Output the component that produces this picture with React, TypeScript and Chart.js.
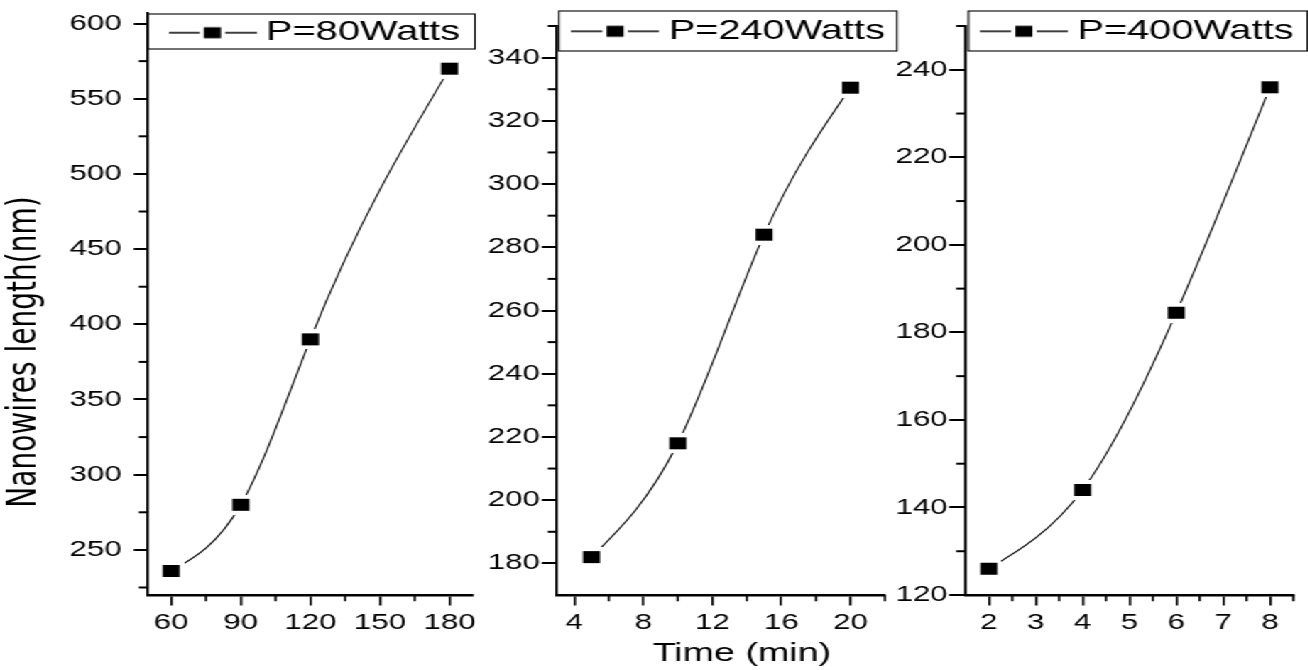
import React, { useEffect, useRef } from "react";
import { Chart, registerables } from "chart.js";

Chart.register(...registerables);

const FONT = "'Liberation Sans', Arial, Helvetica, sans-serif";
Chart.defaults.font.family = FONT;

// ---------- data ----------
const seriesLabels = ["P=80Watts", "P=240Watts", "P=400Watts"];
const xTitle = "Time (min)";
const yTitle = "Nanowires length(nm)";

// Panel 1 (P = 80 W)
const p1Time = [60, 90, 120, 180];
const p1Length = [236, 280, 390, 570];
const p1XMajor = [60, 90, 120, 150, 180];
const p1XMinor = [75, 105, 135, 165];
const p1YMajor = [250, 300, 350, 400, 450, 500, 550, 600];
const p1YMinor = [225, 275, 325, 375, 425, 475, 525, 575];

// Panel 2 (P = 240 W)
const p2Time = [5, 10, 15, 20];
const p2Length = [182, 218, 284, 330.5];
const p2XMajor = [4, 8, 12, 16, 20];
const p2XMinor = [6, 10, 14, 18, 22];
const p2YMajor = [180, 200, 220, 240, 260, 280, 300, 320, 340];
const p2YMinor = [190, 210, 230, 250, 270, 290, 310, 330, 350];

// Panel 3 (P = 400 W)
const p3Time = [2, 4, 6, 8];
const p3Length = [126, 144, 184.5, 236];
const p3XMajor = [2, 3, 4, 5, 6, 7, 8];
const p3XMinor = [2.5, 3.5, 4.5, 5.5, 6.5, 7.5, 8.5];
const p3YMajor = [120, 140, 160, 180, 200, 220, 240];
const p3YMinor = [130, 150, 170, 190, 210, 230, 250];

// ---------- layout (final page px; canvases stretched horizontally by S) ----------
const S = 1.42;
const H = 670;
const AXIS_BOTTOM = 595;
const LEGEND_FONT = 28;
const LEGEND_BW = 47.4;
const SYM_W = 62;
const SYM_H = 16;

const PANELS: any[] = [
  {
    label: seriesLabels[0], xs: p1Time, ys: p1Length,
    xMin: 50, xMax: 190, yMin: 220, yMax: 607,
    xMajor: p1XMajor, xMinor: p1XMinor, yMajor: p1YMajor, yMinor: p1YMinor,
    canvasLeft: 0, canvasW: 340, axisLeft: 148, axisRight: 478, top: 13,
    yTickLen: 10, yTickPad: 8.6, bottomShift: 21,
    legendTextStart: 266, legendTextCenter: 32.7, box: [148, 475, 14, 49],
    yTitle: true, xTitle: false,
  },
  {
    label: seriesLabels[1], xs: p2Time, ys: p2Length,
    xMin: 3, xMax: 22, yMin: 170, yMax: 350,
    xMajor: p2XMajor, xMinor: p2XMinor, yMajor: p2YMajor, yMinor: p2YMinor,
    canvasLeft: 480, canvasW: 296, axisLeft: 557, axisRight: 885, top: 26,
    yTickLen: 10.6, yTickPad: 1.4, bottomShift: 0,
    legendTextStart: 668.7, legendTextCenter: 31.3, box: [559, 897, 11, 51],
    yTitle: false, xTitle: true,
  },
  {
    label: seriesLabels[2], xs: p3Time, ys: p3Length,
    xMin: 1.5, xMax: 8.5, yMin: 120, yMax: 250,
    xMajor: p3XMajor, xMinor: p3XMinor, yMajor: p3YMajor, yMinor: p3YMinor,
    canvasLeft: 880, canvasW: 301, axisLeft: 965, axisRight: 1293, top: 26,
    yTickLen: 11.5, yTickPad: 1, bottomShift: 0,
    legendTextStart: 1077, legendTextCenter: 31.3, box: [968, 1307, 11, 51],
    yTitle: false, xTitle: false,
  },
];

// natural cubic spline slopes at each knot (data space)
function naturalSlopes(x: number[], y: number[]): number[] {
  const n = x.length;
  const h: number[] = [];
  for (let i = 0; i < n - 1; i++) h.push(x[i + 1] - x[i]);
  const M = new Array(n).fill(0);
  if (n > 2) {
    const m = n - 2;
    const a = new Array(m).fill(0);
    const b = new Array(m).fill(0);
    const c = new Array(m).fill(0);
    const d = new Array(m).fill(0);
    for (let k = 0; k < m; k++) {
      const i = k + 1;
      a[k] = h[i - 1];
      b[k] = 2 * (h[i - 1] + h[i]);
      c[k] = h[i];
      d[k] = 6 * ((y[i + 1] - y[i]) / h[i] - (y[i] - y[i - 1]) / h[i - 1]);
    }
    for (let k = 1; k < m; k++) {
      const w = a[k] / b[k - 1];
      b[k] -= w * c[k - 1];
      d[k] -= w * d[k - 1];
    }
    const sol = new Array(m).fill(0);
    sol[m - 1] = d[m - 1] / b[m - 1];
    for (let k = m - 2; k >= 0; k--) sol[k] = (d[k] - c[k] * sol[k + 1]) / b[k];
    for (let k = 0; k < m; k++) M[k + 1] = sol[k];
  }
  const s: number[] = [];
  for (let i = 0; i < n - 1; i++) {
    s.push((y[i + 1] - y[i]) / h[i] - (h[i] * (2 * M[i] + M[i + 1])) / 6);
  }
  const j = n - 2;
  s.push((y[j + 1] - y[j]) / h[j] + (h[j] * (M[j] + 2 * M[j + 1])) / 6);
  return s;
}

function makeMarker(): HTMLCanvasElement {
  const c = document.createElement("canvas");
  c.width = 18;
  c.height = 20;
  const g = c.getContext("2d")!;
  g.fillStyle = "#fff";
  g.fillRect(0, 0, 18, 20);
  g.fillStyle = "#000";
  g.fillRect(3, 4, 12, 12);
  return c;
}

function makeLegendSymbol(): HTMLCanvasElement {
  const c = document.createElement("canvas");
  c.width = SYM_W;
  c.height = SYM_H;
  const g = c.getContext("2d")!;
  g.strokeStyle = "#000";
  g.lineWidth = 1.3;
  g.beginPath();
  g.moveTo(0, 8);
  g.lineTo(22, 8);
  g.moveTo(40, 8);
  g.lineTo(SYM_W, 8);
  g.stroke();
  g.fillStyle = "#000";
  g.fillRect(25, 2.5, 12, 11);
  return c;
}

function Panel({ cfg }: { cfg: any }) {
  const ref = useRef<HTMLCanvasElement>(null);

  useEffect(() => {
    const canvas = ref.current;
    if (!canvas) return;
    const toX = (fx: number) => (fx - cfg.canvasLeft) / S;
    const leftN = toX(cfg.axisLeft);
    const rightN = toX(cfg.axisRight);
    const titleFontSize = 28;
    const titlePadTop = 1.2;
    const titleW = cfg.yTitle ? titleFontSize * 1.2 + titlePadTop : 0;
    const marker = makeMarker();
    const legendSymbol = makeLegendSymbol();
    const slopes = naturalSlopes(cfg.xs, cfg.ys);

    const layoutPlugin = {
      id: "placeLegend",
      afterLayout(chart: any) {
        const lg = chart.legend;
        if (!lg) return;
        const l = toX(cfg.legendTextStart) - LEGEND_BW - LEGEND_FONT / 2;
        const t = cfg.legendTextCenter - LEGEND_FONT / 2;
        const hb = lg.legendHitBoxes && lg.legendHitBoxes[0];
        const itemW = hb ? hb.width : 240;
        lg.left = l - 20;
        lg.right = l + itemW;
        lg.width = lg.right - lg.left;
        lg.top = t - 4;
        lg.bottom = t + 40;
        lg.height = 44;
        // compensate top offset used for cursor: cursor.y = top + padding
        lg.top = t;
        lg.height = 40;
      },
    };

    const splinePlugin = {
      id: "naturalSpline",
      beforeDatasetsDraw(chart: any) {
        const meta = chart.getDatasetMeta(0);
        const xs = chart.scales.x;
        const ys = chart.scales.y;
        const pts = meta.data;
        const n = cfg.xs.length;
        for (let i = 0; i < n; i++) {
          const p = pts[i];
          if (!p) continue;
          const hp = i > 0 ? cfg.xs[i] - cfg.xs[i - 1] : 0;
          const hn = i < n - 1 ? cfg.xs[i + 1] - cfg.xs[i] : 0;
          p.cp1x = xs.getPixelForValue(cfg.xs[i] - hp / 3);
          p.cp1y = ys.getPixelForValue(cfg.ys[i] - (slopes[i] * hp) / 3);
          p.cp2x = xs.getPixelForValue(cfg.xs[i] + hn / 3);
          p.cp2y = ys.getPixelForValue(cfg.ys[i] + (slopes[i] * hn) / 3);
        }
        if (meta.dataset) {
          meta.dataset._pointsUpdated = true;
          delete meta.dataset._path;
        }
      },
    };

    const decorPlugin = {
      id: "decor",
      afterDraw(chart: any) {
        const ctx = chart.ctx;
        const xs = chart.scales.x;
        const ys = chart.scales.y;
        ctx.save();
        ctx.strokeStyle = "#000";
        ctx.lineWidth = 2;
        cfg.yMinor.forEach((v: number) => {
          const p = ys.getPixelForValue(v);
          ctx.beginPath();
          ctx.moveTo(ys.right, p);
          ctx.lineTo(ys.right - 6.5, p);
          ctx.stroke();
        });
        ctx.lineWidth = 1.6;
        cfg.xMinor.forEach((v: number) => {
          const p = xs.getPixelForValue(v);
          ctx.beginPath();
          ctx.moveTo(p, xs.top);
          ctx.lineTo(p, xs.top + 6.3);
          ctx.stroke();
        });
        const [bl, br, bt, bb] = cfg.box;
        ctx.lineWidth = 1.1;
        ctx.strokeRect(toX(bl), bt, toX(br) - toX(bl), bb - bt);
        ctx.restore();
      },
    };

    const chart = new Chart(canvas, {
      type: "line",
      data: {
        datasets: [
          {
            label: cfg.label,
            data: cfg.xs.map((x: number, i: number) => ({ x, y: cfg.ys[i] })),
            borderColor: "#000",
            backgroundColor: "#000",
            borderWidth: 1.1,
            cubicInterpolationMode: "monotone",
            pointStyle: marker as any,
            pointRadius: 6,
            fill: false,
          },
        ],
      },
      options: {
        responsive: false,
        animation: false,
        devicePixelRatio: 1,
        events: [],
        layout: {
          padding: {
            left: 0,
            top: cfg.top,
            right: cfg.canvasW - rightN,
            bottom: -cfg.bottomShift,
          },
        },
        plugins: {
          tooltip: { enabled: false },
          legend: {
            display: true,
            position: "top",
            align: "end",
            maxHeight: 0.001,
            labels: {
              usePointStyle: true,
              pointStyleWidth: LEGEND_BW,
              padding: 0,
              color: "#000",
              font: { size: LEGEND_FONT, family: FONT },
              generateLabels: () => [
                {
                  text: cfg.label,
                  pointStyle: legendSymbol as any,
                  fillStyle: "#000",
                  strokeStyle: "#000",
                  fontColor: "#000",
                  lineWidth: 0,
                  hidden: false,
                  datasetIndex: 0,
                } as any,
              ],
            },
          },
          title: cfg.yTitle
            ? {
                display: true,
                position: "left",
                text: yTitle,
                color: "#000",
                font: { family: "'DejaVu Sans', sans-serif", size: titleFontSize, weight: "normal" },
                padding: { top: titlePadTop, bottom: 0 },
              }
            : { display: false },
        },
        scales: {
          x: {
            type: "linear",
            position: "bottom",
            min: cfg.xMin,
            max: cfg.xMax,
            afterBuildTicks: (s: any) => {
              s.ticks = cfg.xMajor.map((v: number) => ({ value: v }));
            },
            afterFit: (s: any) => {
              s.height = H - AXIS_BOTTOM + cfg.bottomShift;
              s.paddingLeft = 0;
              s.paddingRight = 0;
            },
            ticks: {
              color: "#000",
              font: { size: 22, family: FONT },
              padding: 3.8,
              maxRotation: 0,
              autoSkip: false,
              callback: (v: any) => String(v),
            },
            grid: {
              display: true,
              drawOnChartArea: false,
              drawTicks: true,
              tickLength: 10.5,
              color: "#000",
              lineWidth: 1.6,
            },
            border: { display: true, color: "#000", width: 2.5 },
            title: cfg.xTitle
              ? {
                  display: true,
                  text: "    " + xTitle,
                  color: "#000",
                  font: { size: 26.5, family: FONT },
                  padding: { top: 0, bottom: 0 },
                }
              : { display: false },
          },
          y: {
            type: "linear",
            position: "left",
            min: cfg.yMin,
            max: cfg.yMax,
            afterBuildTicks: (s: any) => {
              s.ticks = cfg.yMajor.map((v: number) => ({ value: v }));
            },
            afterFit: (s: any) => {
              s.width = leftN - titleW;
              s.paddingTop = 0;
              s.paddingBottom = 0;
            },
            ticks: {
              color: "#000",
              font: { size: 22, family: FONT },
              padding: cfg.yTickPad,
              autoSkip: false,
              callback: (v: any) => String(v),
            },
            grid: {
              display: true,
              drawOnChartArea: false,
              drawTicks: true,
              tickLength: cfg.yTickLen,
              color: "#000",
              lineWidth: 2,
            },
            border: { display: true, color: "#000", width: 1.8 },
          },
        },
      } as any,
      plugins: [layoutPlugin, splinePlugin, decorPlugin],
    });

    return () => chart.destroy();
  }, [cfg]);

  return (
    <canvas
      ref={ref}
      width={cfg.canvasW}
      height={H}
      style={{
        position: "absolute",
        left: cfg.canvasLeft / S,
        top: 0,
        width: cfg.canvasW,
        height: H,
      }}
    />
  );
}

export default function App() {
  return (
    <div
      style={{
        position: "absolute",
        left: 0,
        top: 0,
        width: 1308,
        height: H,
        overflow: "hidden",
        background: "#fff",
      }}
    >
      <div
        style={{
          position: "absolute",
          left: 0,
          top: 0,
          width: 1308 / S,
          height: H,
          transform: `scale(${S}, 1)`,
          transformOrigin: "0 0",
        }}
      >
        {PANELS.map((p, i) => (
          <Panel key={i} cfg={p} />
        ))}
      </div>
    </div>
  );
}
